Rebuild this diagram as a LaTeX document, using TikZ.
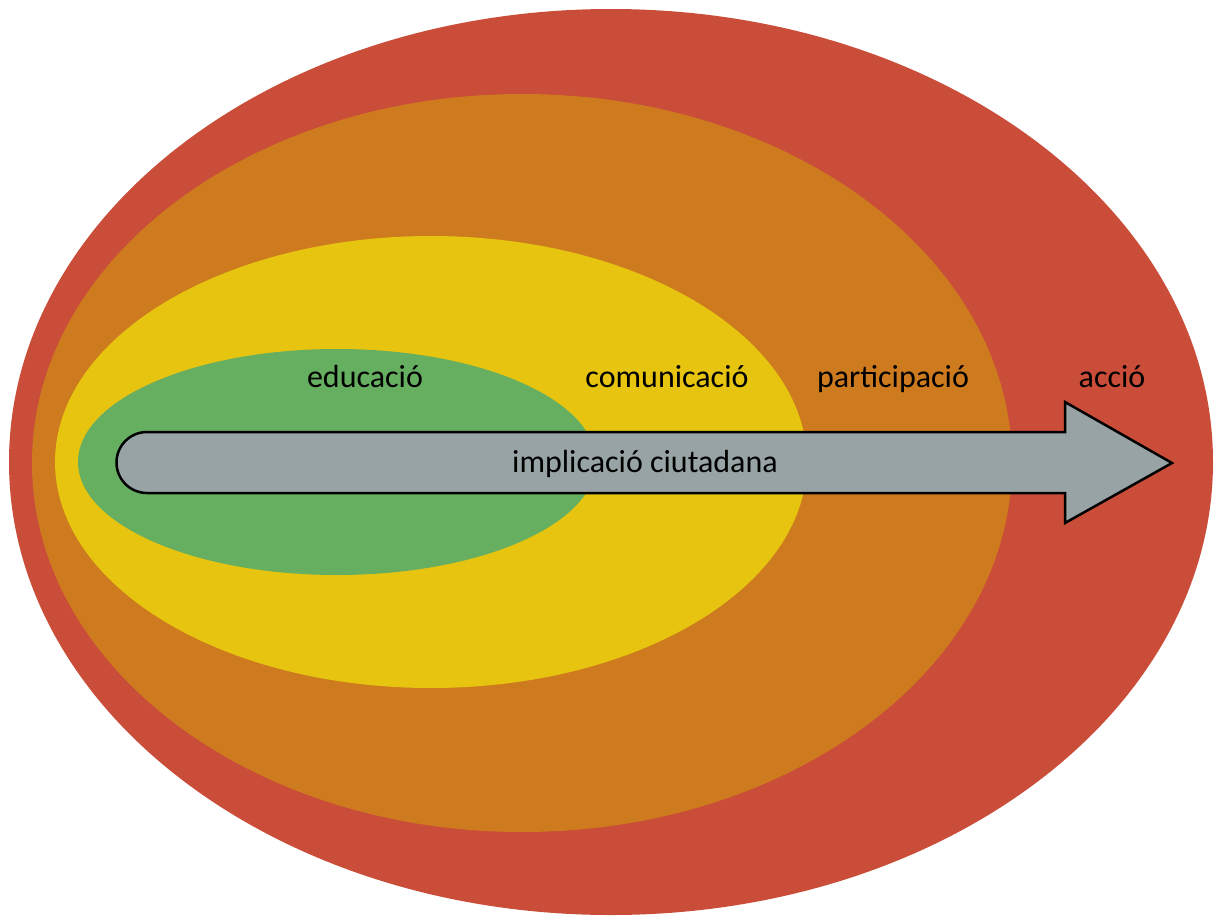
\documentclass[tikz,border=0pt]{standalone}
\usepackage{fontspec}
\setmainfont{Carlito}
\usepackage{tikz}
\definecolor{accioRed}{HTML}{C94D38}
\definecolor{partOrange}{HTML}{CE7A1E}
\definecolor{comYellow}{HTML}{E6C410}
\definecolor{eduGreen}{HTML}{66AE60}
\definecolor{arrowGray}{HTML}{97A3A5}
\tikzstyle{stage} = [anchor=base, text=black, font=\fontsize{32}{38}\selectfont]
\tikzstyle{bigarrow} = [draw=black, line width=2.5pt, fill=arrowGray, line join=miter]

\begin{document}
\begin{tikzpicture}[x=1pt, y=-1pt]
    \useasboundingbox (0,0) rectangle (1219,916);
    % nested stages
    \fill[accioRed] (611,462) ellipse [x radius=602, y radius=453];
    \fill[partOrange] (522,463) ellipse [x radius=490, y radius=369];
    \fill[comYellow] (431,462) ellipse [x radius=376, y radius=226];
    \fill[eduGreen] (337,462) ellipse [x radius=259, y radius=113];

    % arrow
    \path[bigarrow] (147,432) -- (1065,432) -- (1065,402) -- (1172,463)
        -- (1065,523) -- (1065,493) -- (147,493)
        arc[start angle=90, end angle=270, radius=30.5] -- cycle;

    \node[stage](educacio) at (365,387) {educació};
    \node[stage](comunicacio) at (667,387) {comunicació};
    \node[stage](participacio) at (893,387) {participació};
    \node[stage](accio) at (1112,387) {acció};
    \node[stage](implicacio) at (645,472) {implicació ciutadana};
\end{tikzpicture}
\end{document}
